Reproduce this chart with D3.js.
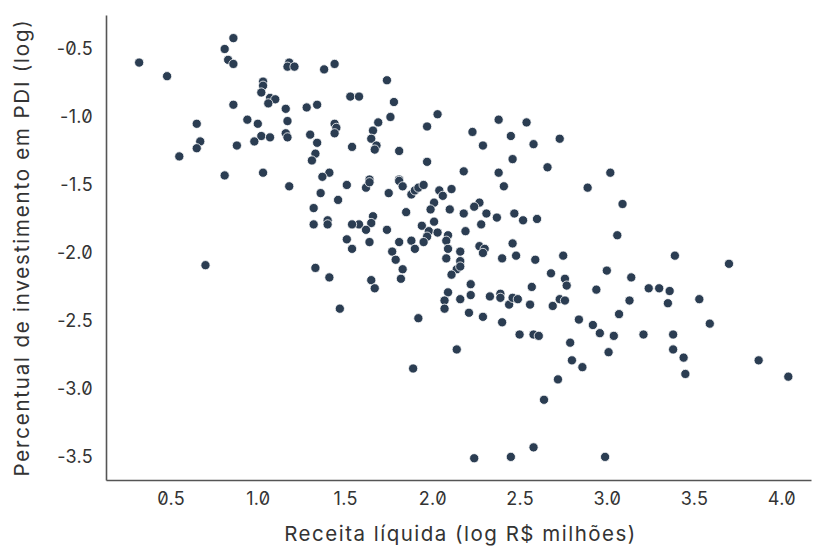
<!DOCTYPE html>
<html>
<head>
<meta charset="utf-8">
<script src="https://cdn.jsdelivr.net/npm/d3@7"></script>
<style>
  html, body { margin: 0; padding: 0; background: #fff; }
  svg text { font-family: Inter, "Open Sans", sans-serif; font-feature-settings: "zero"; fill: #333; }
</style>
</head>
<body>
<svg id="chart" width="815" height="549"></svg>
<script>
// Receita líquida (log R$ milhões)
const revenue = [
  0.32,0.48,0.86,0.81,0.83,0.86,1.18,1.17,1.21,1.38,1.44,1.03,1.03,1.02,1.07,1.10,1.06,1.16,0.86,1.28,1.34,0.65,0.94,1.00,1.17,1.44,1.45,1.44,1.16,1.17,1.30,1.02,1.07,0.98,0.67,0.65,0.88,1.34,0.55,1.33,1.31,0.81,1.03,1.41,1.37,
  1.74,1.53,1.58,1.78,1.76,2.03,1.97,1.69,1.66,1.65,1.68,1.67,1.54,1.81,2.23,2.38,2.54,2.45,2.29,2.58,2.73,2.46,1.97,2.18,2.38,2.66,1.64,1.81,3.02,
  1.18,1.36,1.46,1.32,1.40,1.40,1.32,0.70,1.33,1.41,1.47,
  1.51,1.62,1.64,1.81,1.83,1.75,1.88,1.90,1.92,1.95,2.04,2.06,2.11,2.41,2.01,1.99,1.85,2.10,2.18,2.27,2.24,2.31,2.37,2.47,2.52,2.60,1.66,1.65,1.58,1.54,1.62,1.74,1.94,2.01,1.98,2.03,1.97,2.19,2.28,1.51,1.64,1.81,1.88,1.95,1.90,2.09,2.08,2.09,1.54,1.77,2.27,2.30,2.29,2.46,2.16,2.48,1.79,2.08,2.16,2.40,2.59,2.75,1.83,2.14,2.16,2.11,1.65,1.67,1.82,2.68,2.76,2.77,2.22,2.57,2.09,2.07,2.16,2.22,2.33,2.39,2.39,2.44,2.46,2.49,2.56,2.69,2.73,2.76,2.07,1.92,2.21,2.29,2.40,
  2.89,3.09,3.06,3.39,3.70,3.00,3.14,2.94,3.24,3.30,3.36,3.13,3.35,3.53,2.84,2.92,3.07,3.59,2.96,
  2.50,2.58,2.61,2.79,2.80,2.14,1.89,2.72,2.64,2.58,2.45,2.24,
  3.04,3.21,3.38,3.01,3.38,3.44,2.86,3.45,3.87,4.04,2.99
];
// Percentual de investimento em PDI (log)
const pdiShare = [
  -0.60,-0.70,-0.42,-0.50,-0.58,-0.61,-0.60,-0.63,-0.63,-0.65,-0.61,-0.74,-0.77,-0.82,-0.86,-0.87,-0.90,-0.94,-0.91,-0.93,-0.91,-1.05,-1.02,-1.05,-1.03,-1.05,-1.08,-1.12,-1.12,-1.15,-1.13,-1.14,-1.15,-1.18,-1.18,-1.23,-1.21,-1.19,-1.29,-1.27,-1.32,-1.43,-1.41,-1.41,-1.44,
  -0.73,-0.85,-0.85,-0.89,-1.00,-0.98,-1.07,-1.04,-1.10,-1.16,-1.21,-1.24,-1.22,-1.25,-1.11,-1.02,-1.04,-1.14,-1.21,-1.20,-1.16,-1.31,-1.33,-1.40,-1.41,-1.37,-1.46,-1.46,-1.41,
  -1.51,-1.56,-1.61,-1.67,-1.76,-1.79,-1.79,-2.09,-2.11,-2.18,-2.41,
  -1.50,-1.52,-1.48,-1.47,-1.51,-1.56,-1.57,-1.54,-1.52,-1.50,-1.54,-1.58,-1.53,-1.51,-1.63,-1.68,-1.70,-1.68,-1.71,-1.63,-1.66,-1.71,-1.74,-1.71,-1.76,-1.75,-1.73,-1.78,-1.79,-1.79,-1.83,-1.83,-1.80,-1.77,-1.84,-1.85,-1.88,-1.84,-1.79,-1.90,-1.92,-1.92,-1.91,-1.92,-1.97,-1.87,-1.91,-1.97,-1.97,-1.99,-1.95,-1.97,-2.00,-1.93,-1.99,-2.02,-2.05,-2.04,-2.06,-2.04,-2.05,-2.02,-2.12,-2.12,-2.10,-2.16,-2.20,-2.26,-2.19,-2.15,-2.19,-2.24,-2.23,-2.25,-2.29,-2.35,-2.34,-2.31,-2.32,-2.30,-2.33,-2.38,-2.33,-2.34,-2.38,-2.39,-2.34,-2.35,-2.41,-2.48,-2.44,-2.47,-2.51,
  -1.52,-1.64,-1.87,-2.02,-2.08,-2.13,-2.18,-2.27,-2.26,-2.26,-2.28,-2.35,-2.37,-2.34,-2.49,-2.53,-2.45,-2.52,-2.59,
  -2.60,-2.60,-2.61,-2.66,-2.79,-2.71,-2.85,-2.93,-3.08,-3.43,-3.50,-3.51,
  -2.61,-2.60,-2.60,-2.73,-2.71,-2.77,-2.84,-2.89,-2.79,-2.91,-3.50
];
const xTicks = [0.5, 1.0, 1.5, 2.0, 2.5, 3.0, 3.5, 4.0];
const yTicks = [-0.5, -1.0, -1.5, -2.0, -2.5, -3.0, -3.5];
const xTitle = "Receita líquida (log R$ milhões)";
const yTitle = "Percentual de investimento em PDI (log)";

const svg = d3.select("#chart");
const x = d3.scaleLinear().domain([0.13, 4.17]).range([106, 811]);
const y = d3.scaleLinear().domain([-3.67, -0.25]).range([480, 15]);

const points = revenue.map((v, i) => ({ x: v, y: pdiShare[i] }));

svg.append("g")
  .selectAll("circle")
  .data(points)
  .join("circle")
  .attr("cx", d => x(d.x))
  .attr("cy", d => y(d.y))
  .attr("r", 4.6)
  .attr("fill", "#2b3d52")
  .attr("stroke", "#ffffff")
  .attr("stroke-width", 0.8);

const fmt = d3.format(".1f");
const xAxis = svg.append("g")
  .attr("transform", `translate(0,${y.range()[0]})`)
  .call(d3.axisBottom(x).tickValues(xTicks).tickFormat(fmt).tickSize(0).tickPadding(12));
const yAxis = svg.append("g")
  .attr("transform", `translate(${x.range()[0]},0)`)
  .call(d3.axisLeft(y).tickValues(yTicks).tickFormat(d => fmt(d).replace("−", "-")).tickSize(0).tickPadding(13));

[xAxis, yAxis].forEach(g => {
  g.select(".domain").attr("stroke", "#555").attr("stroke-width", 1.6);
  g.selectAll("text").attr("font-size", 18).attr("fill", "#333")
    .attr("letter-spacing", 0.3)
    .attr("font-family", "Inter, 'Open Sans', sans-serif");
});

svg.append("text")
  .attr("x", (x.range()[0] + x.range()[1]) / 2 + 2)
  .attr("y", 541)
  .attr("text-anchor", "middle")
  .attr("font-size", 20.5)
  .attr("letter-spacing", 1.5)
  .text(xTitle);

svg.append("text")
  .attr("transform", `translate(29,${(y.range()[0] + y.range()[1]) / 2}) rotate(-90)`)
  .attr("text-anchor", "middle")
  .attr("font-size", 20.5)
  .attr("letter-spacing", 1.8)
  .text(yTitle);
</script>
</body>
</html>
